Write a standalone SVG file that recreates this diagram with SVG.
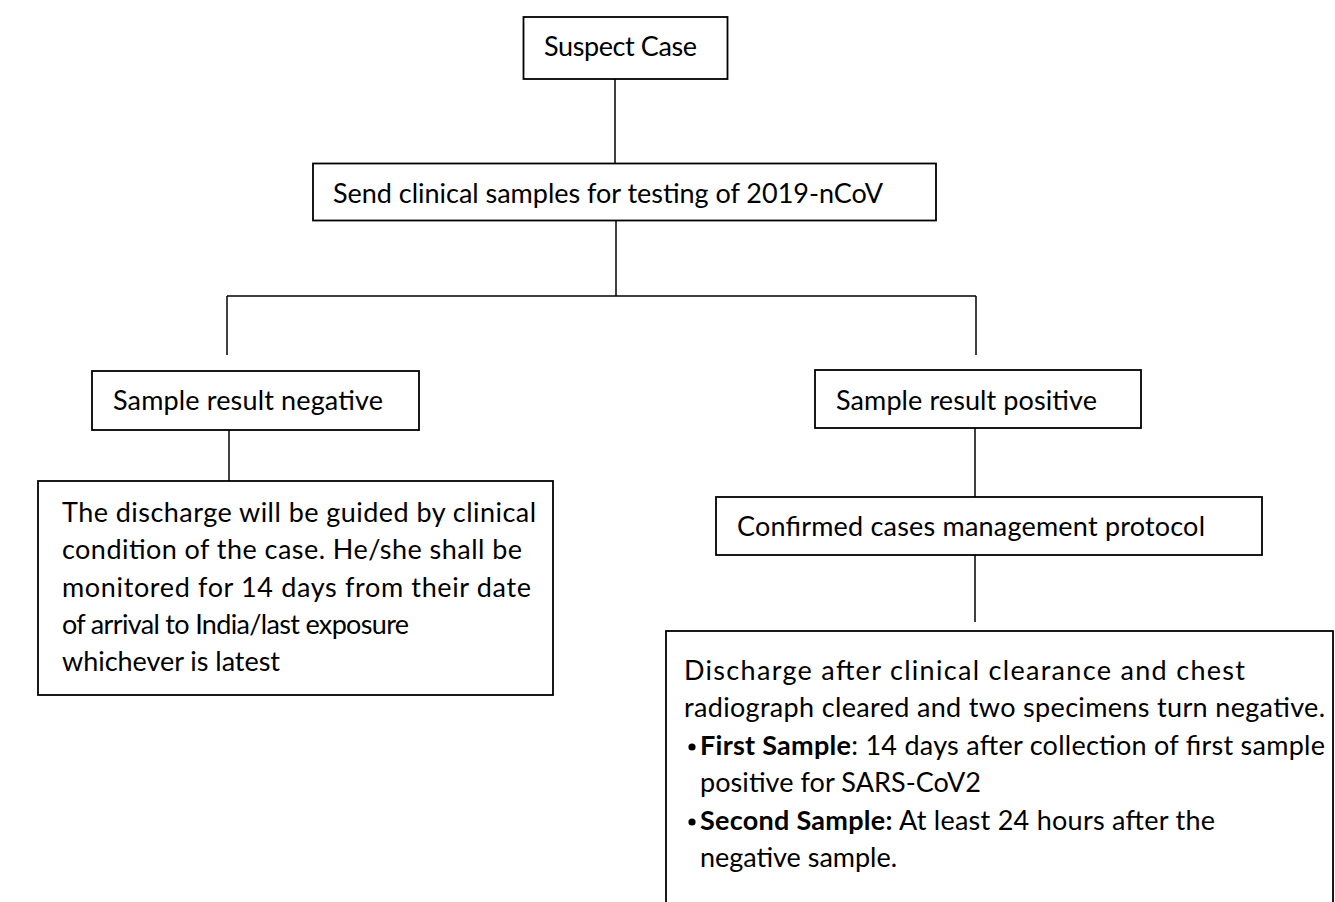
<svg xmlns="http://www.w3.org/2000/svg" width="1335" height="902" viewBox="0 0 1335 902">
<style>
.box{fill:#fff;stroke:#000;stroke-width:1.8}
.ln{fill:none;stroke:#000;stroke-width:1.5}
.t{font-family:Lato,"Liberation Sans",sans-serif;font-size:27px;fill:#000}
.b{font-weight:bold}
</style>
<rect width="1335" height="902" fill="#fff"/>
<g id="connectors">
<path class="ln" d="M615 79 V163.5"/>
<path class="ln" d="M616 221 V296"/>
<path class="ln" d="M227 296 H976"/>
<path class="ln" d="M227 296 V355"/>
<path class="ln" d="M976 296 V355"/>
<path class="ln" d="M229 430 V481"/>
<path class="ln" d="M975 428 V497"/>
<path class="ln" d="M975 555 V622"/>
</g>
<g id="suspect">
<rect class="box" x="523.5" y="17" width="204" height="62"/>
<text class="t" x="544" y="56" textLength="153" lengthAdjust="spacing">Suspect Case</text>
</g>
<g id="send">
<rect class="box" x="313" y="163.5" width="623" height="57"/>
<text class="t" x="333" y="203" textLength="550" lengthAdjust="spacing">Send clinical samples for testing of 2019-nCoV</text>
</g>
<g id="negative">
<rect class="box" x="92" y="371" width="327" height="59"/>
<text class="t" x="113" y="410" textLength="270" lengthAdjust="spacing">Sample result negative</text>
</g>
<g id="positive">
<rect class="box" x="815" y="370" width="326" height="58"/>
<text class="t" x="836" y="410" textLength="261" lengthAdjust="spacing">Sample result positive</text>
</g>
<g id="discharge-negative">
<rect class="box" x="38" y="481" width="515" height="214"/>
<text class="t" x="62" y="522" textLength="474" lengthAdjust="spacing">The discharge will be guided by clinical</text>
<text class="t" x="62" y="559" textLength="460" lengthAdjust="spacing">condition of the case. He/she shall be</text>
<text class="t" x="62" y="597" textLength="469" lengthAdjust="spacing">monitored for 14 days from their date</text>
<text class="t" x="62" y="634" textLength="347" lengthAdjust="spacing">of arrival to India/last exposure</text>
<text class="t" x="62" y="671" textLength="218" lengthAdjust="spacing">whichever is latest</text>
</g>
<g id="confirmed">
<rect class="box" x="716" y="497" width="546" height="58"/>
<text class="t" x="737" y="536" textLength="468" lengthAdjust="spacing">Confirmed cases management protocol</text>
</g>
<g id="discharge-positive">
<rect class="box" x="666" y="631" width="667" height="290"/>
<text class="t" x="684" y="680" textLength="561" lengthAdjust="spacing">Discharge after clinical clearance and chest</text>
<text class="t" x="684" y="717" textLength="641" lengthAdjust="spacing">radiograph cleared and two specimens turn negative.</text>
<circle cx="692" cy="747" r="3.6" fill="#000"/>
<text class="t" x="700" y="755" textLength="625" lengthAdjust="spacing"><tspan class="b">First Sample</tspan>: 14 days after collection of first sample</text>
<text class="t" x="700" y="792" textLength="281" lengthAdjust="spacing">positive for SARS-CoV2</text>
<circle cx="692" cy="822" r="3.6" fill="#000"/>
<text class="t" x="700" y="830" textLength="515" lengthAdjust="spacing"><tspan class="b">Second Sample:</tspan> At least 24 hours after the</text>
<text class="t" x="700" y="867" textLength="197" lengthAdjust="spacing">negative sample.</text>
</g>
</svg>
